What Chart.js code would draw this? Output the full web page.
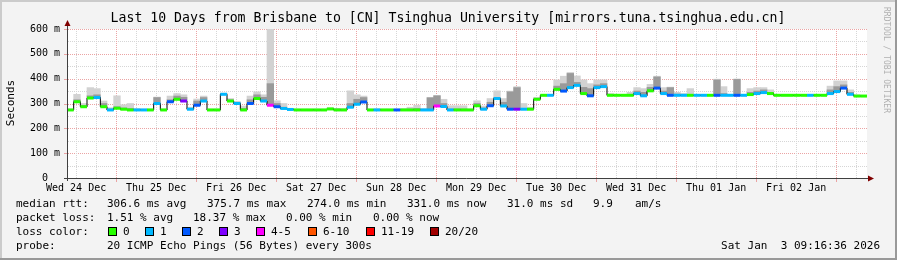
<!DOCTYPE html>
<html>
<head>
<meta charset="utf-8">
<script src="https://cdn.jsdelivr.net/npm/chart.js@4.4.1/dist/chart.umd.min.js"></script>
<style>
    html, body { margin: 0; padding: 0; background: #f3f3f3; }
    #wrap { width: 897px; height: 260px; }
</style>
</head>
<body>
<div id="wrap"><canvas id="smokeChart" width="897" height="260"></canvas></div>
<script>
// Time axis is in hours since Wed 24 Dec 00:00 (graph ends Sat Jan 3 09:16)
const startHour = 9.27;
const endHour = 249.27;
const stepHours = 2;

const dayLabels = ['Wed 24 Dec', 'Thu 25 Dec', 'Fri 26 Dec', 'Sat 27 Dec', 'Sun 28 Dec',
    'Mon 29 Dec', 'Tue 30 Dec', 'Wed 31 Dec', 'Thu 01 Jan', 'Fri 02 Jan'];
const yTickValues = [0, 100, 200, 300, 400, 500, 600];
const yTickLabels = ['0  ', '100 m', '200 m', '300 m', '400 m', '500 m', '600 m'];

// median rtt per 2h step (ms)
const medianRtt = [
    274, 307, 287, 322, 324, 287, 274, 281, 277, 274,
    274, 274, 274, 300, 274, 307, 317, 310, 277, 293,
    310, 274, 274, 337, 310, 300, 274, 300, 320, 310,
    293, 287, 280, 276, 274, 274, 274, 274, 274, 278,
    274, 274, 285, 297, 306, 274, 274, 274, 274, 274,
    274, 274, 274, 274, 274, 290, 288, 274, 274, 274,
    274, 291, 277, 291, 320, 290, 277, 277, 277, 277,
    317, 333, 333, 357, 350, 364, 373, 340, 331, 364,
    368, 333, 333, 333, 333, 340, 331, 351, 362, 340,
    333, 333, 333, 333, 333, 333, 333, 333, 333, 333,
    333, 333, 336, 340, 344, 340, 333, 333, 333, 333,
    333, 333, 333, 333, 340, 348, 362, 337, 330, 330
];
// loss colour index per step (0 = no loss ... 7 = 20/20)
const lossIdx = [
    0, 0, 0, 0, 1, 0, 1, 0, 0, 0,
    1, 1, 0, 1, 0, 2, 0, 3, 1, 2,
    1, 0, 0, 1, 0, 1, 0, 2, 0, 1,
    4, 2, 1, 1, 0, 0, 0, 0, 0, 0,
    0, 0, 1, 1, 2, 0, 1, 0, 0, 2,
    0, 0, 0, 1, 1, 4, 1, 1, 0, 0,
    0, 0, 1, 2, 1, 1, 2, 3, 1, 0,
    0, 0, 1, 0, 2, 1, 1, 0, 2, 1,
    1, 0, 0, 0, 0, 1, 1, 0, 2, 1,
    2, 1, 1, 0, 1, 1, 0, 2, 1, 1,
    2, 1, 0, 1, 1, 0, 0, 0, 0, 0,
    0, 1, 0, 0, 1, 1, 2, 1, 0, 0
];
// inner (dark) smoke top per step
const smokeMid = [
    276, 315, 292, 331, 335, 300, 278, 287, 282, 280,
    276, 276, 276, 324, 276, 315, 330, 325, 280, 310,
    324, 276, 276, 340, 315, 305, 280, 315, 335, 325,
    380, 300, 285, 278, 276, 276, 276, 276, 276, 280,
    278, 276, 300, 317, 324, 276, 276, 276, 276, 276,
    276, 278, 280, 276, 323, 331, 300, 278, 278, 278,
    276, 300, 282, 305, 324, 305, 347, 364, 280, 280,
    320, 335, 335, 370, 380, 421, 385, 365, 360, 375,
    380, 335, 335, 335, 336, 350, 345, 365, 407, 350,
    364, 338, 336, 335, 335, 335, 335, 395, 340, 335,
    397, 335, 345, 350, 355, 345, 335, 335, 335, 335,
    335, 335, 335, 335, 355, 368, 375, 345, 331, 330
];
// outer (light) smoke top per step
const smokeHi = [
    278, 337, 300, 364, 360, 310, 283, 331, 295, 300,
    280, 278, 278, 326, 278, 330, 340, 335, 285, 318,
    330, 278, 278, 342, 320, 308, 290, 330, 347, 335,
    610, 311, 300, 280, 278, 278, 278, 278, 278, 283,
    280, 280, 351, 335, 330, 278, 280, 278, 278, 278,
    280, 285, 293, 280, 325, 333, 317, 291, 291, 291,
    278, 311, 290, 320, 351, 320, 350, 368, 300, 285,
    325, 337, 337, 395, 410, 425, 411, 395, 380, 395,
    395, 340, 335, 335, 345, 364, 360, 377, 410, 364,
    366, 345, 340, 360, 337, 337, 337, 398, 368, 337,
    399, 337, 360, 364, 364, 355, 337, 337, 337, 337,
    337, 337, 337, 337, 370, 391, 391, 355, 335, 332
];

const lossColors = ['#26ff00', '#00b8ff', '#0059ff', '#7e00ff', '#ff00ff', '#ff5500', '#ff0000', '#a10000'];
const lossLabels = ['0', '1', '2', '3', '4-5', '6-10', '11-19', '20/20'];

const MONO = "'DejaVu Sans Mono', 'Liberation Mono', monospace";
const majorGrid = '#eba4a4';
const minorGrid = '#d6d6d6';

// build point lists from the arrays
const smokeHiBars = medianRtt.map((m, i) => ({ x: startHour + (i + 0.5) * stepHours, y: [m, smokeHi[i]] }));
const smokeMidBars = medianRtt.map((m, i) => ({ x: startHour + (i + 0.5) * stepHours, y: [m, smokeMid[i]] }));
const stepLine = medianRtt.map((m, i) => ({ x: startHour + i * stepHours, y: m }));
stepLine.push({ x: endHour, y: medianRtt[medianRtt.length - 1] });
const medianPieces = [];
medianRtt.forEach(function(m, i) {
    const t = startHour + i * stepHours;
    medianPieces.push({ x: t, y: m }, { x: t + stepHours, y: m }, { x: t + stepHours, y: null });
});

const xGridHours = [];
for (let h = 12; h < endHour; h += 6) xGridHours.push(h);
const yGridValues = [];
for (let v = 50; v <= 600; v += 50) yGridValues.push(v);

const frame = {
    id: 'frame',
    beforeDraw(chart) {
        const { ctx, chartArea: a, width, height } = chart;
        ctx.save();
        ctx.fillStyle = '#f3f3f3';
        ctx.fillRect(0, 0, width, height);
        ctx.fillStyle = '#ffffff';
        ctx.fillRect(a.left, a.top, a.right - a.left, a.bottom - a.top);
        ctx.fillStyle = '#cbcbcb';
        ctx.fillRect(0, 0, width, 2);
        ctx.fillRect(0, 0, 2, height);
        ctx.fillStyle = '#999999';
        ctx.fillRect(0, height - 2, width, 2);
        ctx.fillRect(width - 2, 0, 2, height);
        ctx.restore();
    },
    beforeDatasetsDraw(chart) {
        // dotted rrdtool style grid, one pixel on / one off
        const { ctx, chartArea: a, scales } = chart;
        ctx.save();
        yGridValues.forEach(function(v) {
            const y = Math.round(scales.y.getPixelForValue(v));
            ctx.fillStyle = v % 100 === 0 ? majorGrid : minorGrid;
            for (let x = a.left + 1; x < a.right; x += 2) ctx.fillRect(x, y, 1, 1);
        });
        xGridHours.forEach(function(h) {
            const x = Math.round(scales.x.getPixelForValue(h));
            ctx.fillStyle = h % 24 === 0 ? majorGrid : minorGrid;
            for (let y = a.bottom - 1; y > a.top; y -= 2) ctx.fillRect(x, y, 1, 1);
        });
        ctx.restore();
    },
    afterDraw(chart) {
        const { ctx, chartArea: a, scales } = chart;
        const xs = scales.x, ys = scales.y;
        ctx.save();

        // grid stubs outside the canvas
        ctx.fillStyle = majorGrid;
        yTickValues.forEach(function(v) {
            ctx.fillRect(a.left - 3, Math.round(ys.getPixelForValue(v)), 3, 1);
        });
        xGridHours.filter(h => h % 24 === 0).forEach(function(h) {
            ctx.fillRect(Math.round(xs.getPixelForValue(h)), a.bottom + 1, 1, 3);
        });

        // axes
        ctx.strokeStyle = '#404040';
        ctx.lineWidth = 1;
        ctx.beginPath();
        ctx.moveTo(a.left + 0.5, a.bottom + 3);
        ctx.lineTo(a.left + 0.5, a.top - 5);
        ctx.moveTo(a.left - 3, a.bottom + 0.5);
        ctx.lineTo(a.right + 2, a.bottom + 0.5);
        ctx.stroke();
        ctx.fillStyle = '#800000';
        ctx.beginPath();
        ctx.moveTo(a.left + 0.5, a.top - 9);
        ctx.lineTo(a.left - 2.5, a.top - 3);
        ctx.lineTo(a.left + 3.5, a.top - 3);
        ctx.closePath(); ctx.fill();
        ctx.beginPath();
        ctx.moveTo(a.right + 7, a.bottom + 0.5);
        ctx.lineTo(a.right + 1, a.bottom - 2.5);
        ctx.lineTo(a.right + 1, a.bottom + 3.5);
        ctx.closePath(); ctx.fill();

        // tick labels
        ctx.fillStyle = '#000';
        ctx.font = '10px ' + MONO;
        ctx.textBaseline = 'middle';
        ctx.textAlign = 'right';
        yTickValues.forEach(function(v, i) {
            ctx.fillText(yTickLabels[i], 60, ys.getPixelForValue(v));
        });
        ctx.textAlign = 'center';
        dayLabels.forEach(function(lbl, i) {
            ctx.fillText(lbl, xs.getPixelForValue(12 + 24 * i), 188);
        });

        // title
        ctx.font = '13.2px ' + MONO;
        ctx.fillText('Last 10 Days from Brisbane to [CN] Tsinghua University [mirrors.tuna.tsinghua.edu.cn]', 448, 19);

        // axis title
        ctx.font = '11px ' + MONO;
        ctx.save();
        ctx.translate(11, 103);
        ctx.rotate(-Math.PI / 2);
        ctx.fillText('Seconds', 0, 0);
        ctx.restore();

        // watermark
        ctx.save();
        ctx.font = '8px ' + MONO;
        ctx.fillStyle = '#b0b0b0';
        ctx.translate(886, 60);
        ctx.rotate(Math.PI / 2);
        ctx.fillText('RRDTOOL / TOBI OETIKER', 0, 0);
        ctx.restore();

        // legend
        ctx.font = '11px ' + MONO;
        ctx.textAlign = 'left';
        ctx.fillStyle = '#000';
        const rows = [
            [204, [[16, 'median rtt:'], [107, '306.6 ms avg'], [207, '375.7 ms max'], [307, '274.0 ms min'],
                [407, '331.0 ms now'], [507, '31.0 ms sd'], [593, '9.9'], [635, 'am/s']]],
            [218, [[16, 'packet loss:'], [107, '1.51 % avg'], [193, '18.37 % max'], [286, '0.00 % min'], [373, '0.00 % now']]],
            [232, [[16, 'loss color:']]],
            [246, [[16, 'probe:'], [107, '20 ICMP Echo Pings (56 Bytes) every 300s']]]
        ];
        rows.forEach(function(r) {
            r[1].forEach(function(p) { ctx.fillText(p[1], p[0], r[0]); });
        });
        const boxX = [108, 145, 182, 219, 256, 308, 366, 430];
        lossLabels.forEach(function(lbl, i) {
            ctx.fillStyle = lossColors[i];
            ctx.fillRect(boxX[i], 227, 8, 8);
            ctx.strokeStyle = '#000';
            ctx.strokeRect(boxX[i] + 0.5, 227.5, 8, 8);
            ctx.fillStyle = '#000';
            ctx.fillText(lbl, boxX[i] + 15, 232);
        });
        ctx.textAlign = 'right';
        ctx.fillText('Sat Jan  3 09:16:36 2026', 880, 246);
        ctx.restore();
    }
};

new Chart(document.getElementById('smokeChart'), {
    data: {
        datasets: [
            {
                type: 'line',
                data: medianPieces,
                borderColor: lossColors[0],
                borderWidth: 3,
                borderCapStyle: 'butt',
                pointRadius: 0,
                spanGaps: false,
                order: 1,
                segment: {
                    borderColor: c => lossColors[lossIdx[Math.floor(c.p0DataIndex / 3)]]
                }
            },
            {
                type: 'line',
                data: stepLine,
                stepped: true,
                borderColor: '#000000',
                borderWidth: 1,
                pointRadius: 0,
                order: 2
            },
            {
                type: 'bar',
                data: smokeMidBars,
                backgroundColor: '#9a9a9a',
                borderWidth: 0,
                barPercentage: 1,
                categoryPercentage: 1,
                grouped: false,
                order: 3
            },
            {
                type: 'bar',
                data: smokeHiBars,
                backgroundColor: '#d2d2d2',
                borderWidth: 0,
                barPercentage: 1,
                categoryPercentage: 1,
                grouped: false,
                order: 4
            }
        ]
    },
    options: {
        responsive: false,
        animation: false,
        devicePixelRatio: 1,
        layout: { padding: { left: 67, top: 29, right: 30, bottom: 82 } },
        plugins: {
            legend: { display: false },
            tooltip: { enabled: false }
        },
        scales: {
            x: {
                type: 'linear',
                min: startHour,
                max: endHour,
                offset: false,
                afterFit: s => { s.height = 0; },
                ticks: { display: false },
                border: { display: false },
                grid: { display: false, offset: false }
            },
            y: {
                min: 0,
                max: 600,
                ticks: { display: false },
                afterFit: s => { s.width = 0; },
                border: { display: false },
                grid: { display: false }
            }
        }
    },
    plugins: [frame]
});
</script>
</body>
</html>
